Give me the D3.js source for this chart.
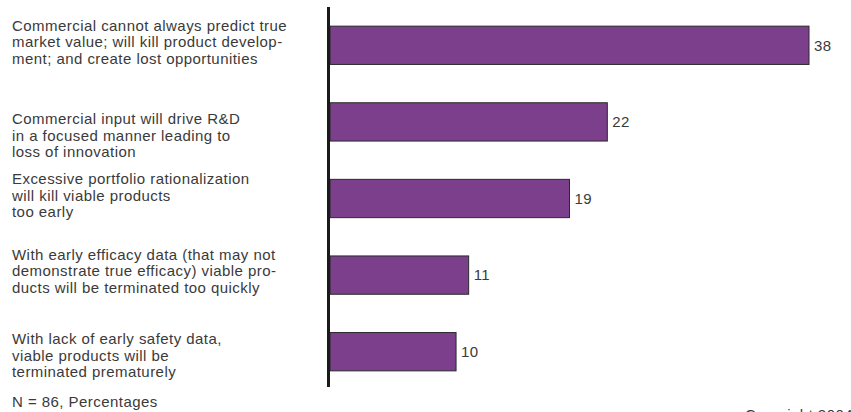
<!DOCTYPE html>
<html>
<head>
<meta charset="utf-8">
<script src="https://cdn.jsdelivr.net/npm/d3@7"></script>
<style>
  body { margin: 0; background: #fff; }
  svg text { font-family: "Liberation Sans", Arial, sans-serif; fill: #3a3a3a; font-size: 15px; letter-spacing: 0.45px; }
</style>
</head>
<body>
<div id="chart"></div>
<script>
// data
var categories = [
  ["Commercial cannot always predict true", "market value; will kill product develop-", "ment; and create lost opportunities"],
  ["Commercial input will drive R&D", "in a focused manner leading to", "loss of innovation"],
  ["Excessive portfolio rationalization", "will kill viable products", "too early"],
  ["With early efficacy data (that may not", "demonstrate true efficacy) viable pro-", "ducts will be terminated too quickly"],
  ["With lack of early safety data,", "viable products will be", "terminated prematurely"]
];
var values = [38, 22, 19, 11, 10];
var footnote = "N = 86, Percentages";
var copyright = "Copyright 2004";

// layout
var width = 851, height = 412;
var labelShift = [-3, 14, -3, -4, 4]; // text blocks don't sit exactly on the bars
var lineH = 16.5;

var svg = d3.select("#chart")
  .append("svg")
    .attr("width", width)
    .attr("height", height);

// scales
var x = d3.scaleLinear()
  .domain([0, 38])
  .range([330, 809]);

var y = d3.scaleBand()
  .domain(d3.range(values.length))
  .range([7, 390])
  .paddingInner(0.5)
  .paddingOuter(0.25);

// bars
svg.selectAll("rect.bar")
  .data(values)
  .enter()
  .append("rect")
    .attr("class", "bar")
    .attr("x", x(0))
    .attr("y", function(d, i) { return y(i); })
    .attr("width", function(d) { return x(d) - x(0); })
    .attr("height", y.bandwidth())
    .style("fill", "#7b3f8c")
    .style("stroke", "#2a2a2a")
    .style("stroke-width", 1);

// value labels
svg.selectAll("text.val")
  .data(values)
  .enter()
  .append("text")
    .attr("class", "val")
    .attr("x", function(d) { return x(d) + 5; })
    .attr("y", function(d, i) { return y(i) + y.bandwidth() / 2; })
    .attr("dy", "0.35em")
    .text(function(d) { return d; });

// category labels
var lab = svg.selectAll("text.cat")
  .data(categories)
  .enter()
  .append("text")
    .attr("class", "cat")
    .attr("x", 12)
    .attr("y", function(d, i) {
      var c = y(i) + y.bandwidth() / 2 + labelShift[i];
      return c - lineH + 5;
    });

lab.selectAll("tspan")
  .data(function(d) { return d; })
  .enter()
  .append("tspan")
    .attr("x", 12)
    .attr("dy", function(d, j) { return j === 0 ? 0 : lineH; })
    .text(function(d) { return d; });

// vertical axis line
svg.append("line")
  .attr("x1", 328.5)
  .attr("x2", 328.5)
  .attr("y1", 7)
  .attr("y2", 387)
  .style("stroke", "#1a1a1a")
  .style("stroke-width", 3);

// footnote
svg.append("text")
  .attr("x", 12)
  .attr("y", 407)
  .text(footnote);

// copyright line sits mostly below the visible area, as in the original
svg.append("text")
  .attr("x", 745)
  .attr("y", 420)
  .text(copyright);
</script>
</body>
</html>
